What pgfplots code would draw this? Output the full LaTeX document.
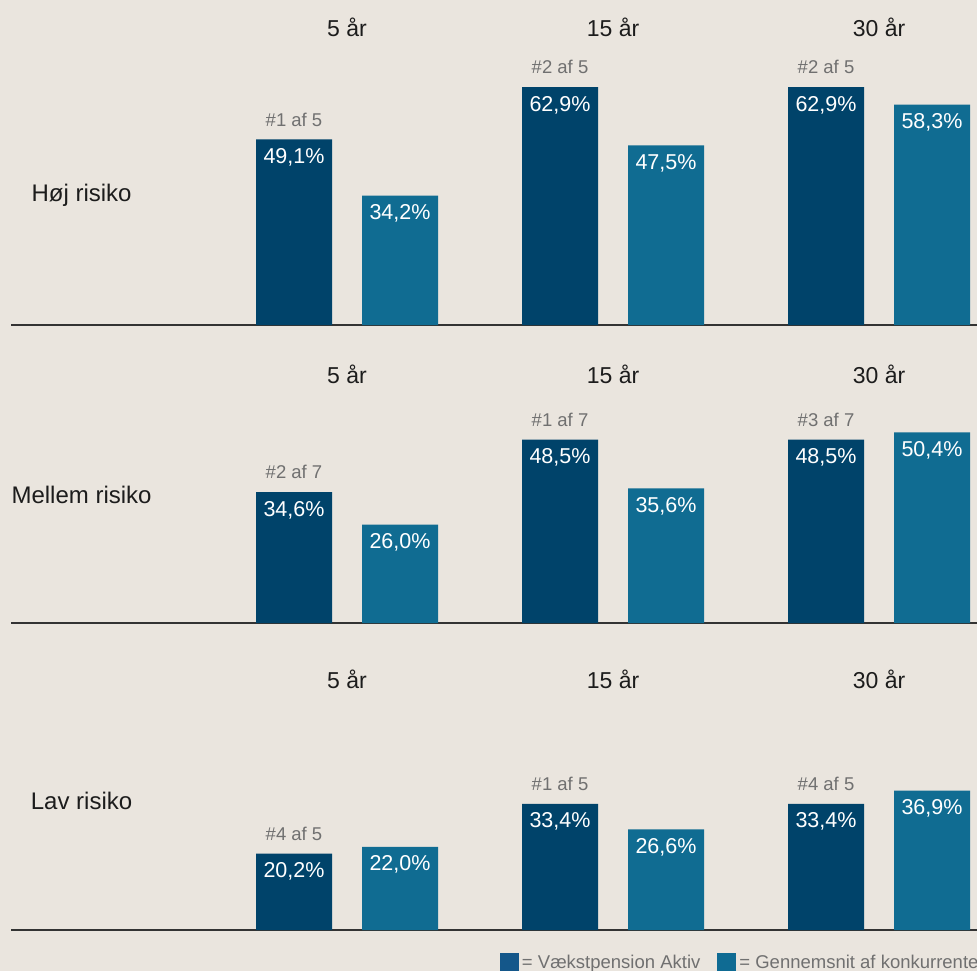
\documentclass[border=0pt]{standalone}
\usepackage{pgfplots}
\pgfplotsset{compat=1.18}
\usepackage{pgfplotstable}
\usepackage{fontspec}
\setmainfont{Liberation Sans}
\definecolor{bgcol}{HTML}{EAE5DE}
\definecolor{darkbar}{HTML}{00436A}
\definecolor{tealbar}{HTML}{106C92}
\definecolor{legdark}{HTML}{14578A}
\definecolor{legteal}{HTML}{0F6B93}
\definecolor{basecol}{HTML}{333333}
\definecolor{rankcol}{HTML}{707070}
\definecolor{txtcol}{HTML}{1C1C1C}
\newcommand\valfont{\fontsize{21.5}{25}\selectfont}
\newcommand\rankfont{\fontsize{18.5}{21}\selectfont}
\newcommand\hdrfont{\fontsize{23}{27}\selectfont}
\newcommand\rowfont{\fontsize{24}{28}\selectfont}
\newcommand\legfont{\fontsize{18.5}{21}\selectfont}

\pgfplotstableread[col sep=comma]{
x,y,rank
0,49.1,\#1 af 5
1,62.9,\#2 af 5
2,62.9,\#2 af 5
}\hojdark
\pgfplotstableread[col sep=comma]{
x,y
0,34.2
1,47.5
2,58.3
}\hojteal
\pgfplotstableread[col sep=comma]{
x,y,rank
0,34.6,\#2 af 7
1,48.5,\#1 af 7
2,48.5,\#3 af 7
}\meldark
\pgfplotstableread[col sep=comma]{
x,y
0,26.0
1,35.6
2,50.4
}\melteal
\pgfplotstableread[col sep=comma]{
x,y,rank
0,20.2,\#4 af 5
1,33.4,\#1 af 5
2,33.4,\#4 af 5
}\lavdark
\pgfplotstableread[col sep=comma]{
x,y
0,22.0
1,26.6
2,36.9
}\lavteal

\tikzset{
  hdr/.style={anchor=base, text=txtcol, font=\hdrfont},
  rowlab/.style={anchor=base, text=txtcol, font=\rowfont},
}
\pgfplotsset{
  panel/.style={
    scale only axis, x=266pt, y=3.78pt,
    xmin=-1.2632, xmax=2.3684, ymin=0, ymax=70,
    axis x line=bottom, axis y line=none,
    x axis line style={-, line width=1.4pt, draw=basecol},
    xtick=\empty, ytick=\empty,
    clip=false,
    ybar, bar width=76pt,
    /pgf/number format/fixed,
    /pgf/number format/fixed zerofill,
    /pgf/number format/precision=1,
    /pgf/number format/use comma,
    /pgf/number format/assume math mode=true,
  },
  darkplot/.style={fill=darkbar, draw=none, bar shift=-53pt,
    nodes near coords={\pgfmathprintnumber{\pgfplotspointmeta}\%},
    every node near coord/.append style={anchor=center, yshift=-18pt, text=white, font=\valfont}},
  tealplot/.style={fill=tealbar, draw=none, bar shift=53pt,
    nodes near coords={\pgfmathprintnumber{\pgfplotspointmeta}\%},
    every node near coord/.append style={anchor=center, yshift=-18pt, text=white, font=\valfont}},
  rankplot/.style={draw=none, fill=none, bar shift=-53pt,
    point meta=explicit symbolic, nodes near coords,
    every node near coord/.append style={anchor=center, yshift=20pt, text=rankcol, font=\rankfont}},
}

\begin{document}
\begin{tikzpicture}
\fill[bgcol] (0,0) rectangle (977pt,-971pt);
\useasboundingbox (0,0) rectangle (977pt,-971pt);

% Panel 1: Hoej risiko
\begin{axis}[panel, at={(11pt,-325pt)}, anchor=south west]
\addplot[darkplot] table[x=x,y=y] {\hojdark};
\addplot[tealplot] table[x=x,y=y] {\hojteal};
\addplot[rankplot] table[x=x,y=y,meta=rank] {\hojdark};
\node[hdr] at (axis cs:0,76.2) {5 år};
\node[hdr] at (axis cs:1,76.2) {15 år};
\node[hdr] at (axis cs:2,76.2) {30 år};
\node[rowlab] at (axis cs:-0.998,32.8) {Høj risiko};
\end{axis}

% Panel 2: Mellem risiko
\begin{axis}[panel, at={(11pt,-623pt)}, anchor=south west]
\addplot[darkplot] table[x=x,y=y] {\meldark};
\addplot[tealplot] table[x=x,y=y] {\melteal};
\addplot[rankplot] table[x=x,y=y,meta=rank] {\meldark};
\node[hdr] at (axis cs:0,63.4) {5 år};
\node[hdr] at (axis cs:1,63.4) {15 år};
\node[hdr] at (axis cs:2,63.4) {30 år};
\node[rowlab] at (axis cs:-0.998,31.7) {Mellem risiko};
\end{axis}

% Panel 3: Lav risiko
\begin{axis}[panel, at={(11pt,-930pt)}, anchor=south west,
  legend columns=2,
  legend style={at={(0.5062,-0.0869)}, anchor=north west, draw=none, fill=none,
    inner sep=0pt, outer sep=0pt,
    nodes={inner sep=0pt, text=rankcol, font=\legfont},
    /tikz/every odd column/.append style={column sep=3pt},
    /tikz/every even column/.append style={column sep=17pt}},
  legend image code/.code={\fill[#1] (0pt,-9pt) rectangle (19pt,10pt);},
]
\addlegendimage{fill=legdark, draw=none}
\addlegendentry{= Vækstpension Aktiv}
\addlegendimage{fill=legteal, draw=none}
\addlegendentry{= Gennemsnit af konkurrenter}
\addplot[darkplot, forget plot] table[x=x,y=y] {\lavdark};
\addplot[tealplot, forget plot] table[x=x,y=y] {\lavteal};
\addplot[rankplot, forget plot] table[x=x,y=y,meta=rank] {\lavdark};
\node[hdr] at (axis cs:0,63.9) {5 år};
\node[hdr] at (axis cs:1,63.9) {15 år};
\node[hdr] at (axis cs:2,63.9) {30 år};
\node[rowlab] at (axis cs:-0.998,32.0) {Lav risiko};
\end{axis}
\end{tikzpicture}
\end{document}
